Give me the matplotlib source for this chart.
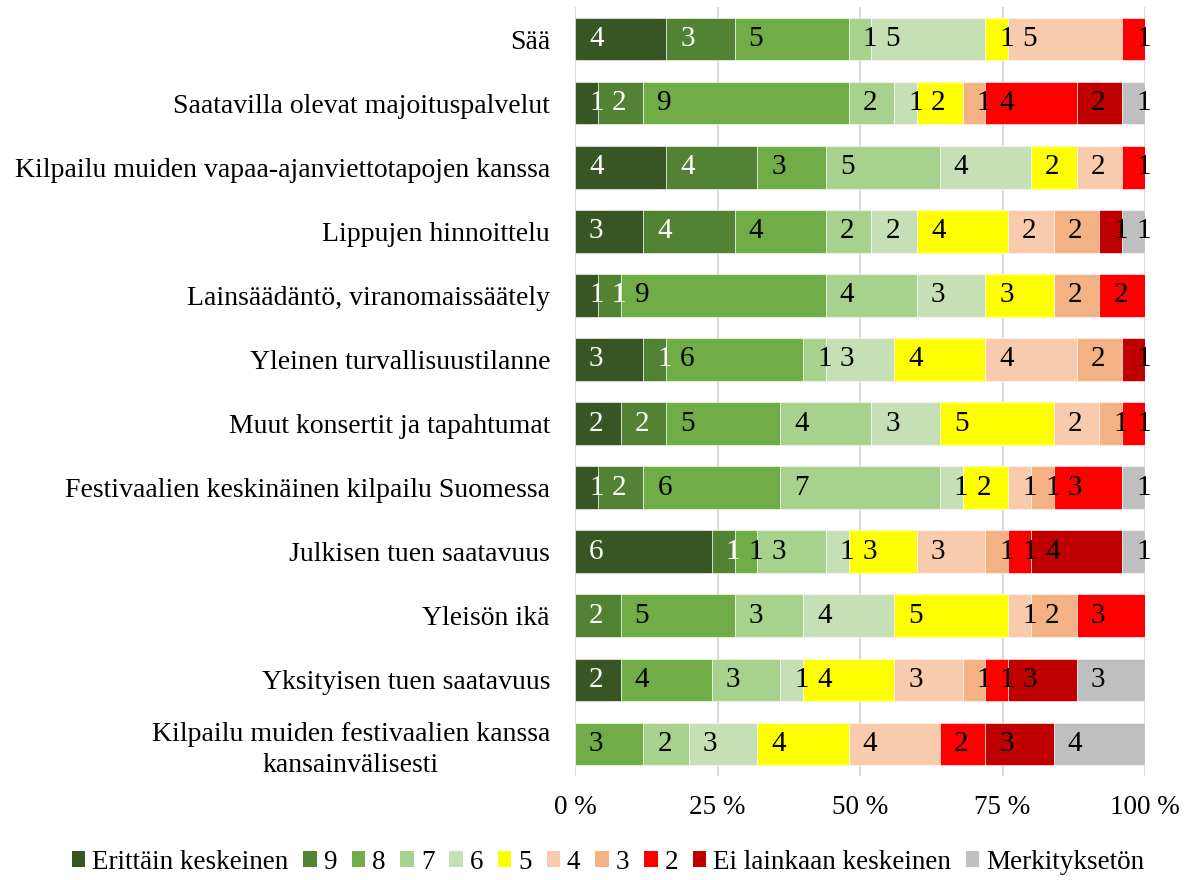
import numpy as np
from matplotlib import pyplot as plt
from matplotlib.patches import Patch

plt.rcParams['font.family'] = ['Liberation Serif', 'DejaVu Serif']

categories = ['Sää',
              'Saatavilla olevat majoituspalvelut',
              'Kilpailu muiden vapaa-ajanviettotapojen kanssa',
              'Lippujen hinnoittelu',
              'Lainsäädäntö, viranomaissäätely',
              'Yleinen turvallisuustilanne',
              'Muut konsertit ja tapahtumat',
              'Festivaalien keskinäinen kilpailu Suomessa',
              'Julkisen tuen saatavuus',
              'Yleisön ikä',
              'Yksityisen tuen saatavuus',
              'Kilpailu muiden festivaalien kanssa\nkansainvälisesti']

series = ['Erittäin keskeinen', '9', '8', '7', '6', '5', '4', '3', '2',
          'Ei lainkaan keskeinen', 'Merkityksetön']
colors = ['#375623', '#548235', '#70AD47', '#A9D18E', '#C5E0B4', '#FFFF00',
          '#F8CBAD', '#F4B183', '#FF0000', '#C00000', '#BFBFBF']

# counts per category, columns follow 'series'
counts = [
    [4, 3, 5, 1, 5, 1, 5, 0, 1, 0, 0],
    [1, 2, 9, 2, 1, 2, 0, 1, 4, 2, 1],
    [4, 4, 3, 5, 4, 2, 2, 0, 1, 0, 0],
    [3, 4, 4, 2, 2, 4, 2, 2, 0, 1, 1],
    [1, 1, 9, 4, 3, 3, 0, 2, 2, 0, 0],
    [3, 1, 6, 1, 3, 4, 4, 2, 0, 1, 0],
    [2, 2, 5, 4, 3, 5, 2, 1, 1, 0, 0],
    [1, 2, 6, 7, 1, 2, 1, 1, 3, 0, 1],
    [6, 1, 1, 3, 1, 3, 3, 1, 1, 4, 1],
    [0, 2, 5, 3, 4, 5, 1, 2, 3, 0, 0],
    [2, 0, 4, 3, 1, 4, 3, 1, 1, 3, 3],
    [0, 0, 3, 2, 3, 4, 4, 0, 2, 3, 4],
]

data = np.array(counts, dtype=float)
pct = data / data.sum(axis=1, keepdims=True) * 100
y = np.arange(len(categories))

fig = plt.figure(figsize=(11.93, 8.80), dpi=100)
ax = fig.add_axes([575 / 1193, 1 - 776 / 880, 570 / 1193, 769 / 880])

left = np.zeros(len(categories))
for j, name in enumerate(series):
    ax.barh(y, pct[:, j], left=left, height=0.667, color=colors[j],
            edgecolor='white', linewidth=0.4, label=name, zorder=2)
    tc = 'white' if j < 2 else 'black'
    for i in range(len(categories)):
        if data[i, j] > 0:
            ax.annotate(str(int(data[i, j])), (left[i], y[i]),
                        xytext=(14, 0), textcoords='offset pixels',
                        ha='left', va='center', fontsize=21, color=tc, zorder=3)
    left += pct[:, j]

ax.set_xlim(0, 100)
ax.set_ylim(len(categories) - 0.5, -0.5)
ax.set_xticks([0, 25, 50, 75, 100])
ax.set_xticklabels(['0 %', '25 %', '50 %', '75 %', '100 %'], fontsize=19.5)
ax.set_yticks(y)
ax.set_yticklabels(categories, fontsize=20, multialignment='center')
for t in ax.get_yticklabels():
    t.set_linespacing(1.3)
ax.tick_params(length=0)
ax.tick_params(axis='y', pad=18)
ax.tick_params(axis='x', pad=14)
ax.grid(axis='x', color='#D9D9D9', linewidth=1.5, zorder=0)
ax.set_axisbelow(True)
for s in ax.spines.values():
    s.set_visible(False)

handles = [Patch(facecolor=c, edgecolor='none') for c in colors]
fig.legend(handles, series, loc='center', bbox_to_anchor=(608 / 1193, 1 - 862 / 880),
           ncol=len(series), frameon=False, fontsize=19.5, handlelength=0.5,
           handleheight=0.5, handletextpad=0.25, columnspacing=0.55,
           borderpad=0, borderaxespad=0)

fig.savefig('out.png', dpi=100)
